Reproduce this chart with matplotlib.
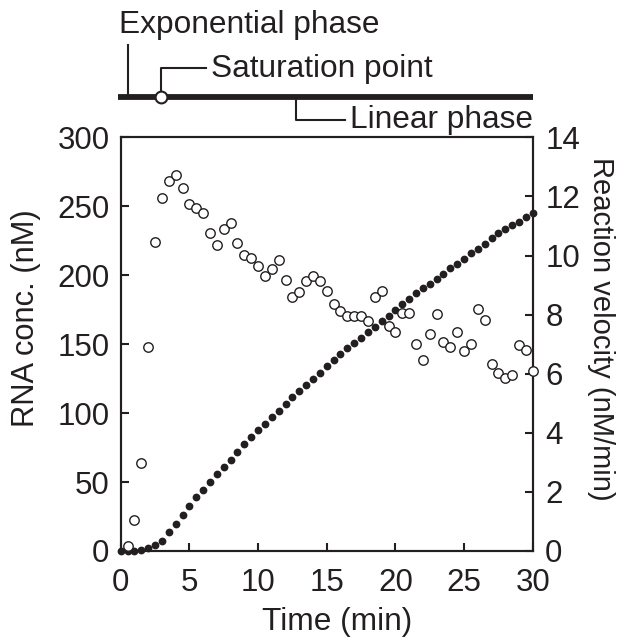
import matplotlib
matplotlib.use("Agg")
import matplotlib.pyplot as plt
import numpy as np

plt.rcParams['font.family'] = ['Liberation Sans', 'DejaVu Sans']

INK = "#231f20"

# ---------------------------------------------------------------------------
# Données
# ---------------------------------------------------------------------------

temps_rna = [0, 0.5, 1, 1.5, 2, 2.5, 3, 3.5, 4, 4.5, 5, 5.5, 6, 6.5, 7, 7.5,
             8, 8.5, 9, 9.5, 10, 10.5, 11, 11.5, 12, 12.5, 13, 13.5, 14, 14.5,
             15, 15.5, 16, 16.5, 17, 17.5, 18, 18.5, 19, 19.5, 20, 20.5, 21,
             21.5, 22, 22.5, 23, 23.5, 24, 24.5, 25, 25.5, 26, 26.5, 27, 27.5,
             28, 28.5, 29, 29.5, 30]

rna_nM = [0, 0, 0, 0.5, 2, 4, 7.5, 14, 19.6, 26, 32.8, 38.8, 44.4, 50, 55.8,
          61, 66.3, 72, 77.4, 82.5, 87.6, 92.3, 97, 101.7, 106.5, 111.4, 115.8,
          120.2, 124.5, 128.9, 133.8, 138.2, 142.8, 146.9, 150.5, 154.6, 158.5,
          162.6, 167, 170.6, 175, 178.9, 182.8, 187.2, 190.8, 193.7, 196.9,
          201.2, 205.2, 208.3, 211.9, 215.8, 219.2, 222.9, 227, 230.7, 233.3,
          236.2, 238.7, 242, 245.3]

temps_vit = temps_rna[1:]

vitesse = [0.18, 1.05, 2.98, 6.91, 10.46, 11.96, 12.51, 12.72, 12.30, 11.75,
           11.6, 11.44, 10.77, 10.37, 10.91, 11.11, 10.41, 10.01, 9.9, 9.63,
           9.31, 9.54, 9.85, 9.17, 8.59, 8.78, 9.14, 9.30, 9.13, 8.81, 8.36,
           8.13, 7.96, 7.96, 7.96, 7.77, 8.59, 8.79, 7.6, 7.40, 8.05, 8.05,
           7.02, 6.46, 7.36, 8.02, 7.08, 6.92, 7.40, 6.76, 7.0, 8.19, 7.83,
           6.32, 6.02, 5.85, 5.95, 6.98, 6.80, 6.09]

# phases (min)
t_exponentiel = 0.5
t_saturation  = 2.9
t_lineaire    = 12.8

# ---------------------------------------------------------------------------
# Figure
# ---------------------------------------------------------------------------

W, H = 624, 640
fig = plt.figure(figsize=(W / 100, H / 100), dpi=100)

x0, x1 = 120.7, 532.7      # bords de l'axe en pixels
y_top, y_bot = 137.3, 551.0
pos = [x0 / W, 1 - y_bot / H, (x1 - x0) / W, (y_bot - y_top) / H]

ax = fig.add_axes(pos)
ax2 = ax.twinx()

ax.plot(temps_rna, rna_nM, "o", color=INK, markersize=5.6,
        markeredgewidth=0, clip_on=False, zorder=3)
ax2.plot(temps_vit, vitesse, "o", markerfacecolor="white",
         markeredgecolor=INK, markersize=6.8, markeredgewidth=1.0,
         clip_on=False, zorder=3)

ax.set_xlim(0, 30)
ax.set_ylim(0, 300)
ax2.set_ylim(0, 14)
ax.set_xticks(range(0, 31, 5))
ax.set_yticks(range(0, 301, 50))
ax2.set_yticks(range(0, 15, 2))

FS_TICK = 22.5
FS_TXT = 22.8
for a in (ax, ax2):
    for s in a.spines.values():
        s.set_linewidth(1.5)
        s.set_color(INK)
    a.tick_params(direction="in", length=6, width=1.5, colors=INK,
                  labelsize=FS_TICK, labelcolor=INK)
ax.tick_params(axis="y", pad=8)
ax.tick_params(axis="x", pad=12)
ax2.tick_params(axis="y", pad=9)

fig.text(26 / W, 1 - 318 / H, "RNA conc. (nM)", rotation=90, ha="center",
         va="center", fontsize=22.2, color=INK)
fig.text(601 / W, 1 - 329 / H, "Reaction velocity (nM/min)", rotation=-90,
         ha="center", va="center", fontsize=21, color=INK)
fig.text(337 / W, 1 - 622 / H, "Time (min)", ha="center", va="center",
         fontsize=FS_TXT, color=INK)

# ---------------------------------------------------------------------------
# Bandeau des phases (y en pixels depuis le haut)
# ---------------------------------------------------------------------------

axt = fig.add_axes([x0 / W, 1 - y_top / H, (x1 - x0) / W, y_top / H])
axt.set_xlim(0, 30)
axt.set_ylim(y_top, 0)
axt.axis("off")

y_barre = 97
axt.plot([-0.17, 30], [y_barre, y_barre], color=INK, linewidth=4.2,
         solid_capstyle="butt", clip_on=False)

kw = dict(color=INK, linewidth=1.5, clip_on=False)
axt.plot([t_exponentiel, t_exponentiel], [45, y_barre], **kw)
axt.text(-0.15, 33, "Exponential phase", fontsize=FS_TXT, color=INK,
         va="baseline", ha="left")

axt.plot([t_saturation, t_saturation, 6.2], [y_barre, 68.3, 68.3], **kw)
axt.plot(t_saturation, y_barre, "o", markerfacecolor="white",
         markeredgecolor=INK, markersize=8.5, markeredgewidth=1.5,
         clip_on=False, zorder=5)
axt.text(6.6, 77, "Saturation point", fontsize=FS_TXT, color=INK,
         va="baseline", ha="left")

axt.plot([t_lineaire, t_lineaire, 16.3], [y_barre, 120, 120], **kw)
axt.text(16.7, 128, "Linear phase", fontsize=FS_TXT, color=INK,
         va="baseline", ha="left")

fig.savefig("out.png", dpi=100)
